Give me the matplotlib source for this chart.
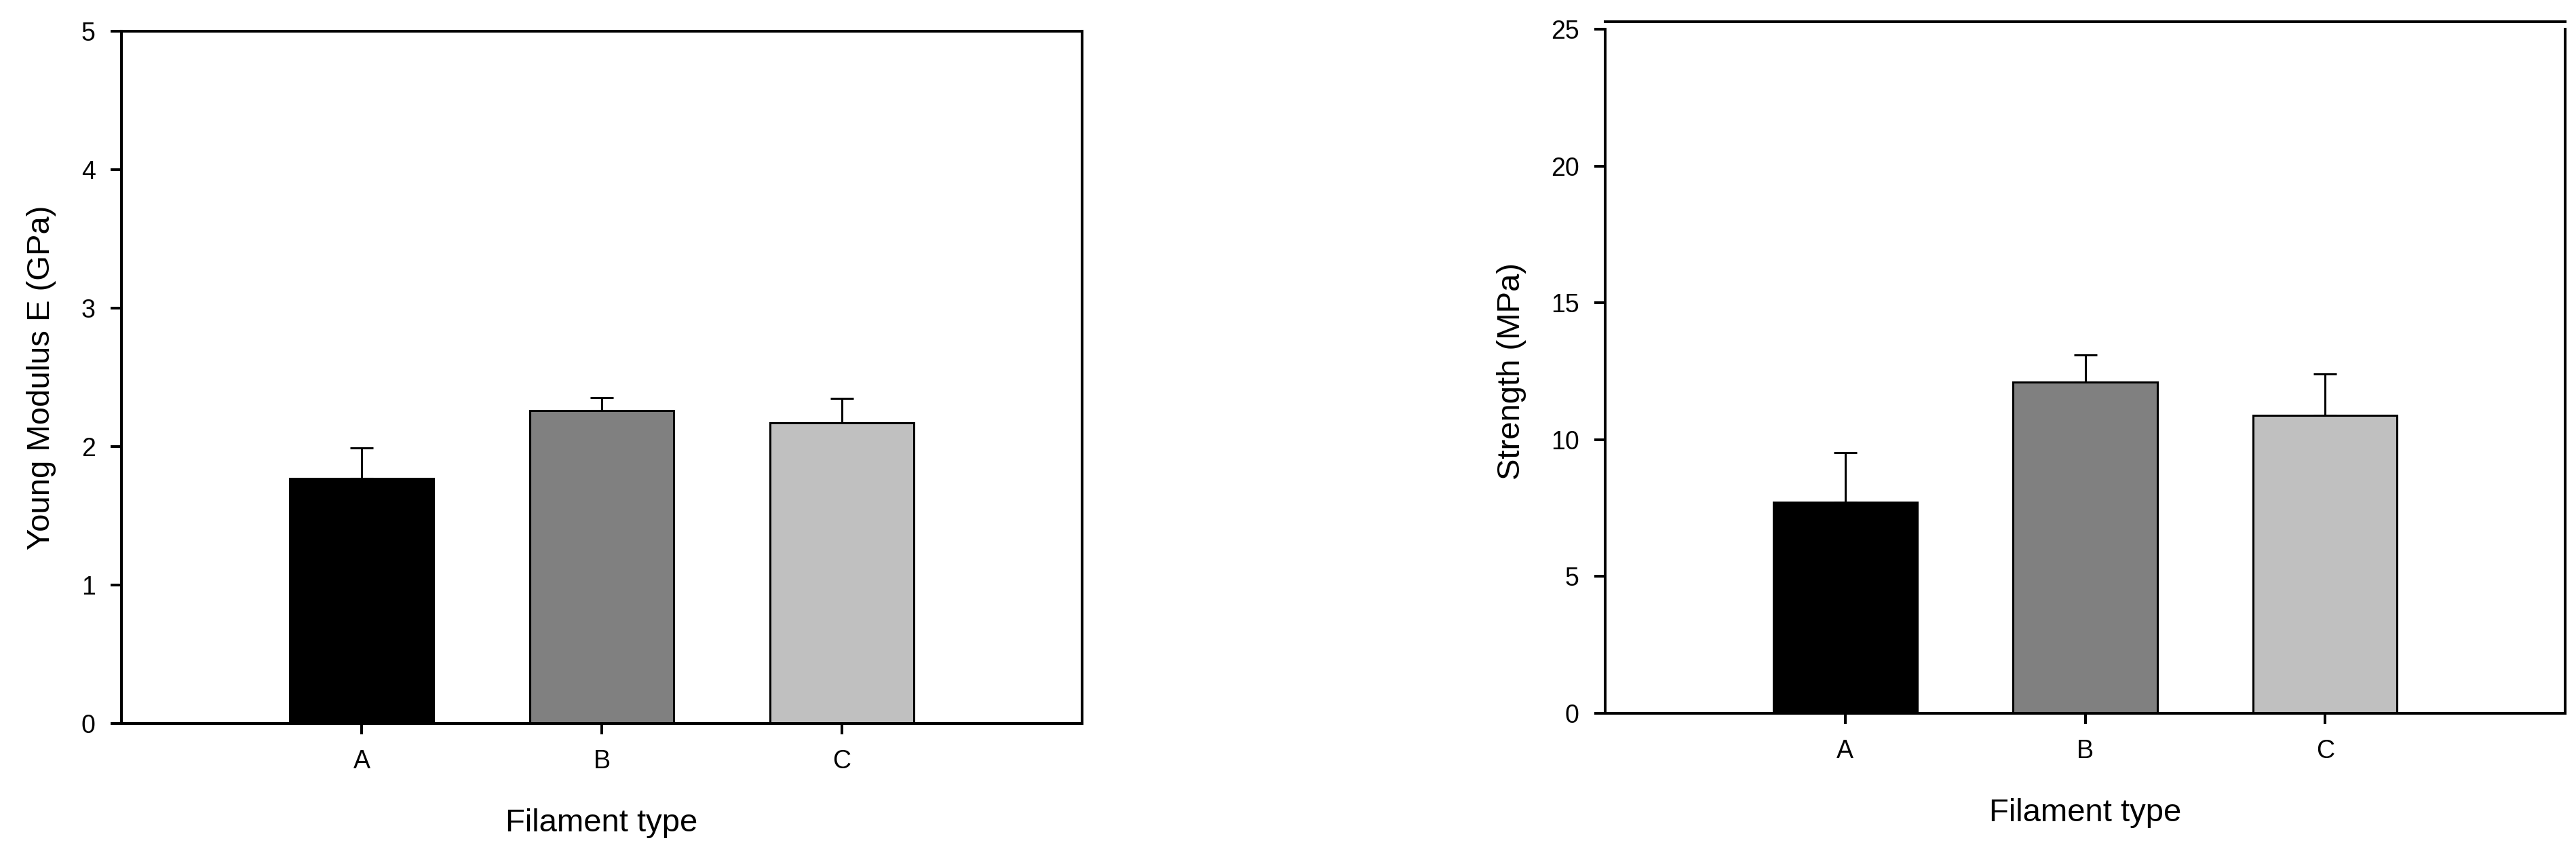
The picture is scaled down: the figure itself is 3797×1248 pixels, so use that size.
import matplotlib.pyplot as plt
import numpy as np

# data
categories = ['A', 'B', 'C']
bar_colors = ['black', '#808080', '#c0c0c0']

modulus_mean = [1.77, 2.26, 2.17]
modulus_err = [0.22, 0.095, 0.18]
modulus_ticks = [0, 1, 2, 3, 4, 5]

strength_mean = [7.71, 12.11, 10.89]
strength_err = [1.82, 0.99, 1.52]
strength_ticks = [0, 5, 10, 15, 20, 25]

plt.rcParams['font.family'] = ['Liberation Sans', 'DejaVu Sans']

W, H = 3797, 1248
fig = plt.figure(figsize=(W / 100, H / 100), dpi=100)


def px_axes(left, top, right, bottom):
    return fig.add_axes([left / W, (H - bottom) / H, (right - left) / W, (bottom - top) / H])


def draw_panel(ax, means, errs, ticks, ylabel, ylab_x, box_h):
    x = np.arange(1, len(categories) + 1)
    ax.errorbar(x, means, yerr=[np.zeros(len(errs)), errs], fmt='none',
                ecolor='black', elinewidth=2.2, capsize=12, capthick=2.2, zorder=1)
    ax.bar(x, means, width=0.6, color=bar_colors, edgecolor='black',
           linewidth=2.2, zorder=2)
    ax.set_xlim(0, len(categories) + 1)
    ax.set_ylim(ticks[0], ticks[-1])
    ax.set_yticks(ticks)
    ax.set_xticks(x, categories)
    ax.tick_params(direction='out', length=11.5, width=2.9, labelsize=27, pad=16)
    ax.tick_params(top=False, right=False)
    for s in ax.spines.values():
        s.set_linewidth(2.9)
    ax.set_ylabel(ylabel, fontsize=34, va='center', ha='center')
    ax.yaxis.set_label_coords(ylab_x, 0.5)
    ax.set_xlabel('Filament type', fontsize=34, va='baseline')
    ax.xaxis.set_label_coords(0.5, -159 / box_h)


ax1 = px_axes(179, 46, 1595, 1066)
draw_panel(ax1, modulus_mean, modulus_err, modulus_ticks,
           'Young Modulus E (GPa)', (61 - 179) / 1416, 1020)

ax2 = px_axes(2366, 43, 3781, 1051)
draw_panel(ax2, strength_mean, strength_err, strength_ticks,
           'Strength (MPa)', (2228 - 2366) / 1415, 1008)
ax2.spines['top'].set_position(('outward', 8))

fig.savefig('out.png', dpi=100, facecolor='white')
